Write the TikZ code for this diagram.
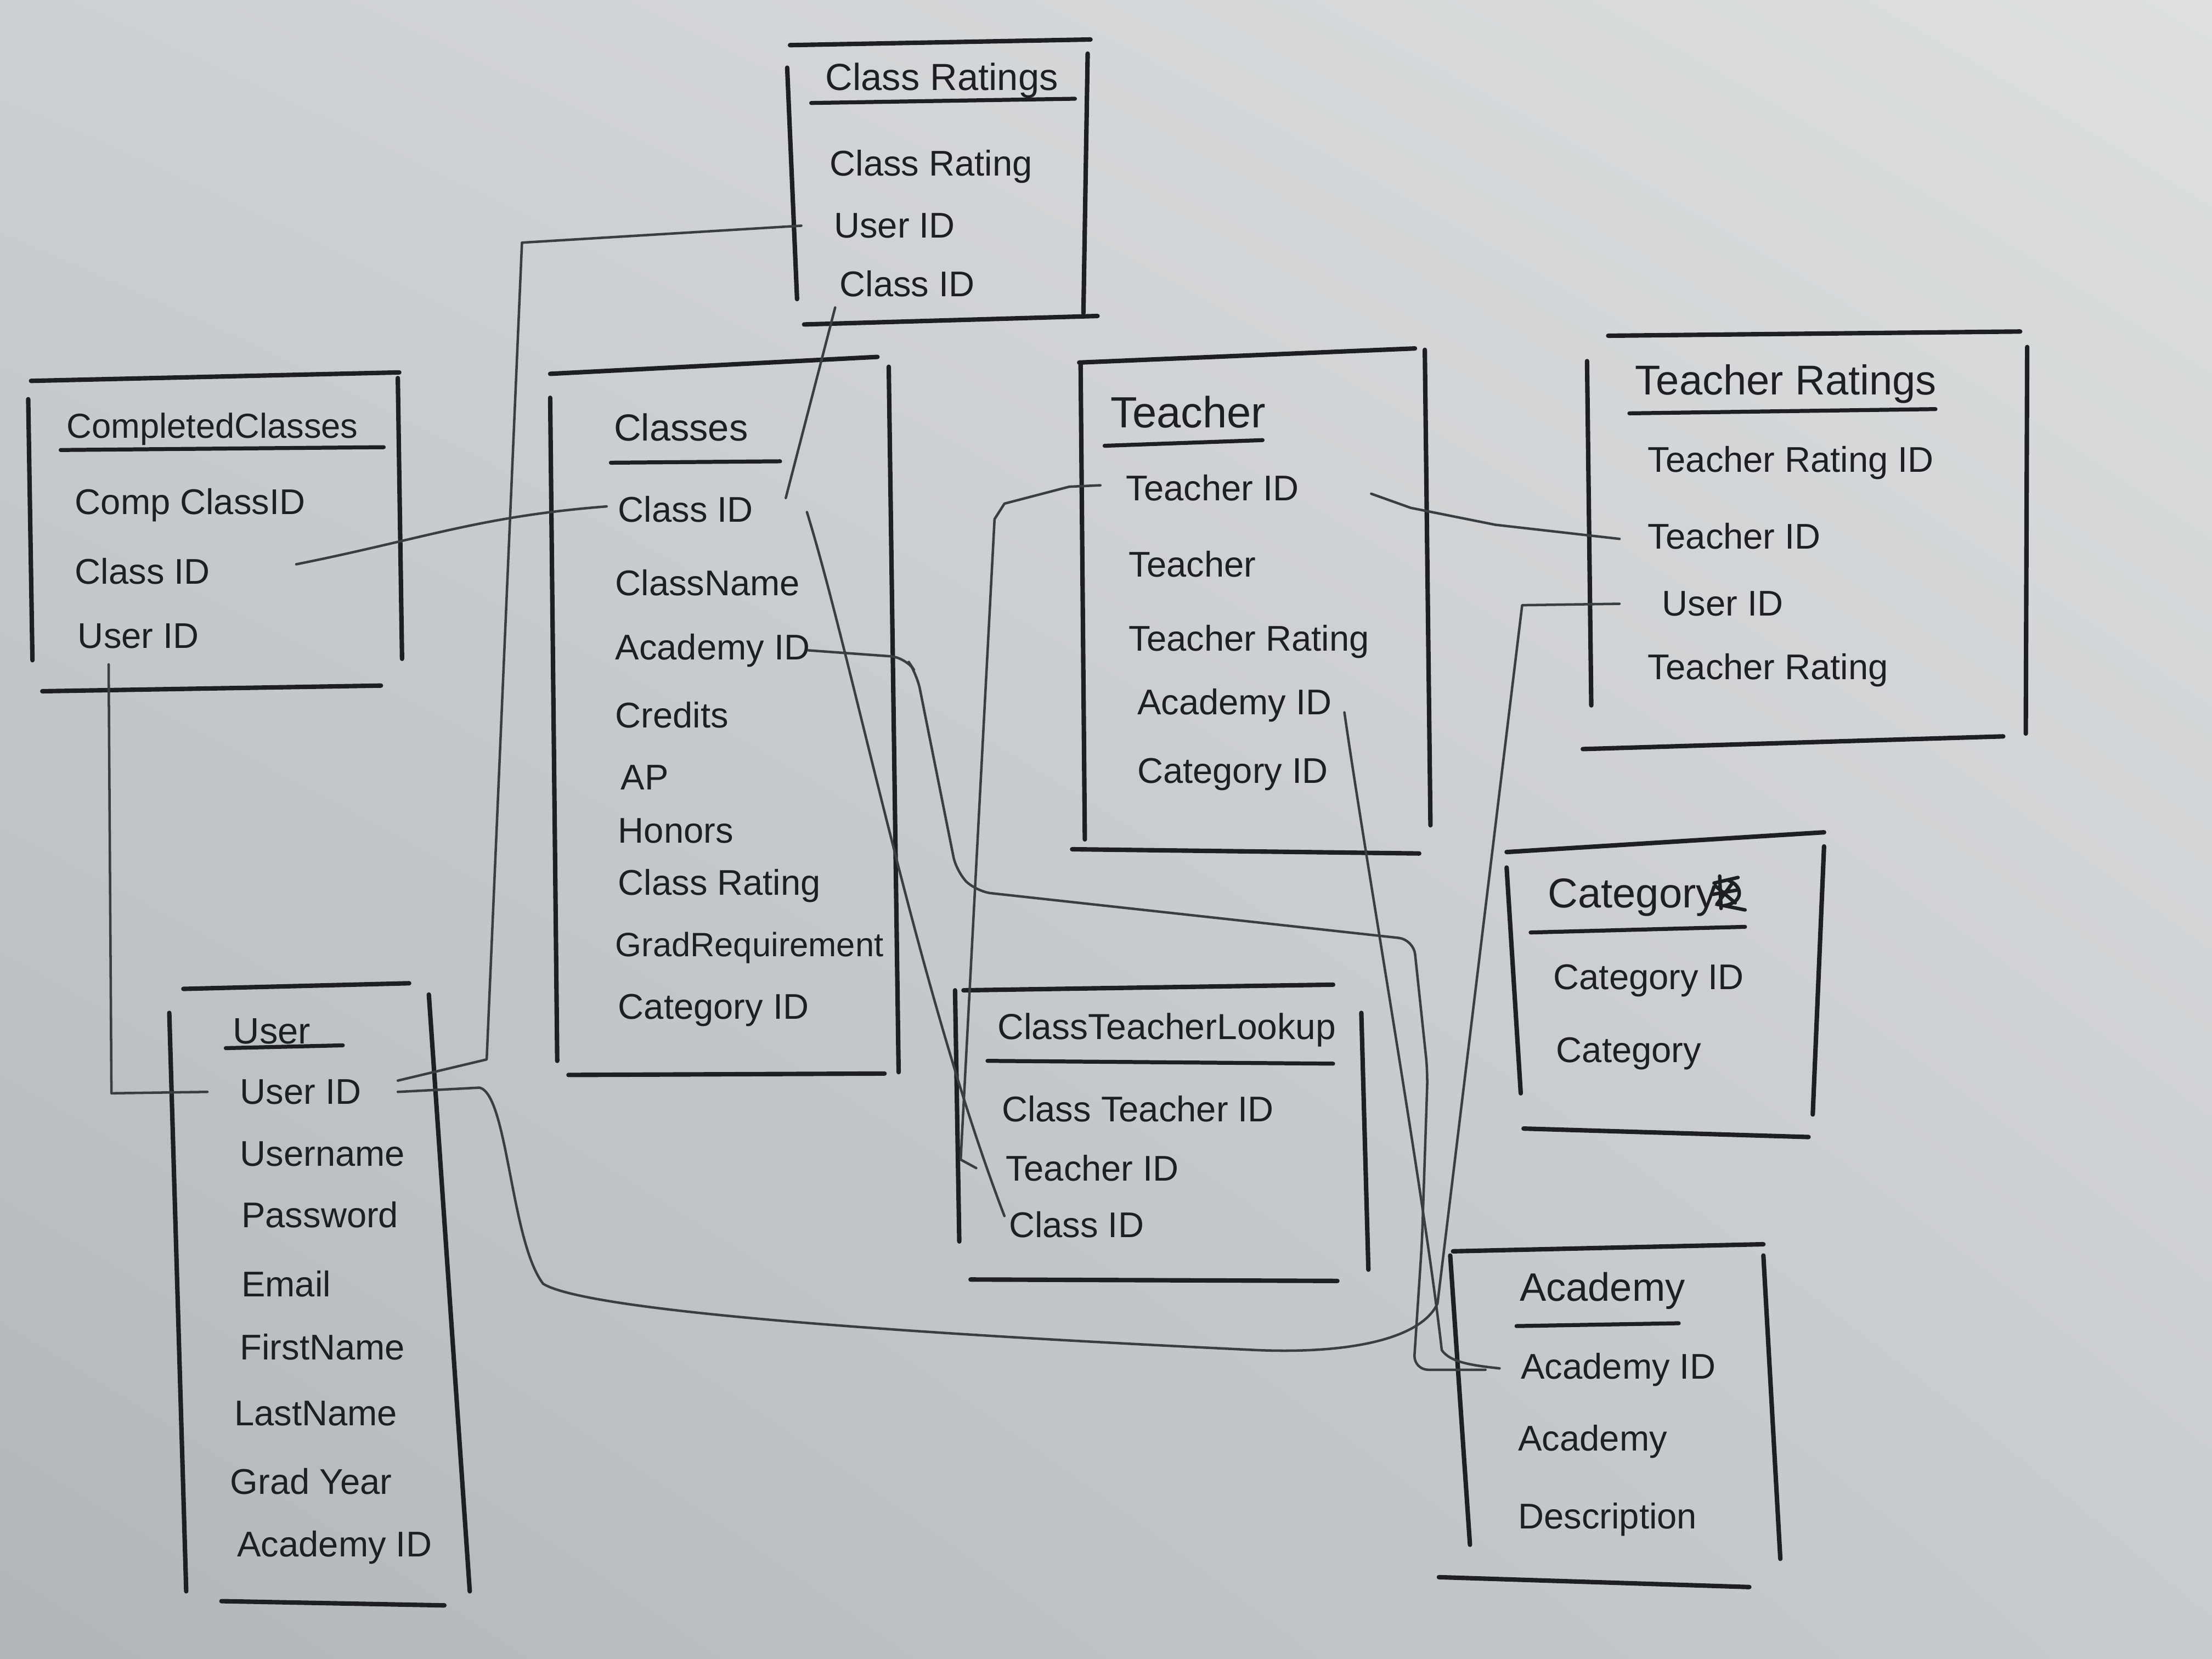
\documentclass[tikz,border=0pt]{standalone}
\usepackage{fontspec}
\setmainfont{Liberation Sans}
\usetikzlibrary{calc,shadings}
\definecolor{ink}{HTML}{1E1F22}
\definecolor{pencil}{HTML}{3A3D42}
\definecolor{paperUL}{HTML}{CDD0D3}
\definecolor{paperUR}{HTML}{DDDFE0}
\definecolor{paperLL}{HTML}{B2B6BA}
\definecolor{paperLR}{HTML}{C9CCCF}
\begin{document}
\begin{tikzpicture}[x=0.01cm,y=-0.01cm,
  box/.style={ink, line width=0.9pt, line cap=round},
  uline/.style={ink, line width=0.8pt, line cap=round},
  link/.style={pencil, line width=0.5pt, line cap=round, line join=round},
  fld/.style={anchor=west, inner sep=1pt, text=ink, font=\fontsize{7.2}{8}\selectfont},
  ttl/.style={anchor=west, inner sep=1pt, text=ink, font=\fontsize{#1}{10}\selectfont},
  ttl/.default=8,
]
\shade[upper left=paperUL, upper right=paperUR, lower left=paperLL, lower right=paperLR] (0,0) rectangle (1568,1176);
\useasboundingbox (0,0) rectangle (1568,1176);

% ---------- Class Ratings ----------
\draw[box] (560,32) -- (773,28);
\draw[box] (558,48) -- (565,212);
\draw[box] (771,38) -- (768,222);
\draw[box] (570,230) -- (778,224);
\node[ttl=7.6] (cr-t) at (581,57) {Class Ratings};
\draw[uline] (575,73) -- (762,70);
\node[fld] (cr-rat) at (584,118) {Class Rating};
\node[fld] (cr-uid) at (587,160) {User ID};
\node[fld] (cr-cid) at (591,201) {Class ID};

% ---------- Completed Classes ----------
\draw[box] (22,270) -- (283,264);
\draw[box] (20,283) -- (23,468);
\draw[box] (282,268) -- (285,467);
\draw[box] (30,490) -- (270,486);
\node[ttl=7.0] (cc-t) at (43,304) {CompletedClasses};
\draw[uline] (43,319) -- (272,317);
\node[fld] (cc-ccid) at (49,358) {Comp ClassID};
\node[fld] (cc-cid) at (49,405) {Class ID};
\node[fld] (cc-uid) at (51,451) {User ID};

% ---------- Classes ----------
\draw[box] (390,265) -- (622,253);
\draw[box] (390,282) -- (395,752);
\draw[box] (630,260) -- (637,760);
\draw[box] (403,762) -- (627,761);
\node[ttl=7.6] (cl-t) at (431,303) {Classes};
\draw[uline] (433,328) -- (553,327);
\node[fld] (cl-cid) at (434,361) {Class ID};
\node[fld] (cl-name) at (432,413) {ClassName};
\node[fld] (cl-aid) at (432,461) {Academy ID};
\node[fld] (cl-cred) at (432,507) {Credits};
\node[fld] (cl-ap) at (436,551) {AP};
\node[fld] (cl-hon) at (434,589) {Honors};
\node[fld] (cl-rat) at (434,628) {Class Rating};
\node[fld, font=\fontsize{6.8}{8}\selectfont] (cl-grad) at (432,672) {GradRequirement};
\node[fld] (cl-cat) at (434,716) {Category ID};

% ---------- Teacher ----------
\draw[box] (765,257) -- (1003,247);
\draw[box] (766,258) -- (769,595);
\draw[box] (1010,248) -- (1014,585);
\draw[box] (760,602) -- (1006,605);
\node[ttl=8.8] (te-t) at (783,292) {Teacher};
\draw[uline] (783,316) -- (895,312);
\node[fld] (te-tid) at (794,346) {Teacher ID};
\node[fld] (te-name) at (796,400) {Teacher};
\node[fld] (te-rat) at (796,455) {Teacher Rating};
\node[fld] (te-aid) at (802,500) {Academy ID};
\node[fld] (te-cat) at (802,549) {Category ID};

% ---------- Teacher Ratings ----------
\draw[box] (1140,238) -- (1432,235);
\draw[box] (1125,256) -- (1128,500);
\draw[box] (1437,246) -- (1436,520);
\draw[box] (1122,531) -- (1420,522);
\node[ttl=8.4] (tr-t) at (1155,272) {Teacher Ratings};
\draw[uline] (1155,293) -- (1372,290);
\node[fld] (tr-rid) at (1164,328) {Teacher Rating ID};
\node[fld] (tr-tid) at (1164,380) {Teacher ID};
\node[fld] (tr-uid) at (1174,428) {User ID};
\node[fld] (tr-rat) at (1164,475) {Teacher Rating};

% ---------- Category ----------
\draw[box] (1068,604) -- (1293,590);
\draw[box] (1068,615) -- (1078,775);
\draw[box] (1293,600) -- (1285,790);
\draw[box] (1080,800) -- (1282,806);
\node[ttl=8.4] (ca-t) at (1093,636) {Category};
\begin{scope}[xshift=0.08cm]
\draw[box, line width=0.7pt] (1207,626) -- (1224,622) (1206,634) -- (1223,631)
  (1211,621) -- (1212,644) (1217,624) .. controls (1228,628) and (1228,640) .. (1214,642) -- (1229,645)
  (1208,628) -- (1222,640) (1220,626) -- (1209,641);
\end{scope}
\draw[uline] (1085,661) -- (1237,657);
\node[fld] (ca-cid) at (1097,695) {Category ID};
\node[fld] (ca-cat) at (1099,747) {Category};

% ---------- Class Teacher Lookup ----------
\draw[box] (683,702) -- (945,698);
\draw[box] (677,702) -- (680,880);
\draw[box] (965,718) -- (970,900);
\draw[box] (688,907) -- (948,908);
\node[ttl=7.3] (ctl-t) at (703,730) {ClassTeacherLookup};
\draw[uline] (700,752) -- (945,754);
\node[fld] (ctl-ctid) at (706,786) {Class Teacher ID};
\node[fld] (ctl-tid) at (709,828) {Teacher ID};
\node[fld] (ctl-cid) at (711,868) {Class ID};

% ---------- User ----------
\draw[box] (130,701) -- (290,697);
\draw[box] (120,718) -- (132,1128);
\draw[box] (304,705) -- (333,1128);
\draw[box] (157,1135) -- (315,1138);
\node[ttl=7.4] (us-t) at (161,731) {User};
\draw[uline] (160,743) -- (243,741);
\node[fld] (us-uid) at (166,774) {User ID};
\node[fld] (us-uname) at (166,818) {Username};
\node[fld] (us-pw) at (167,861) {Password};
\node[fld] (us-mail) at (167,910) {Email};
\node[fld] (us-first) at (166,955) {FirstName};
\node[fld] (us-last) at (162,1002) {LastName};
\node[fld] (us-grad) at (159,1050) {Grad Year};
\node[fld] (us-aid) at (164,1097) {Academy ID};

% ---------- Academy ----------
\draw[box] (1030,887) -- (1250,882);
\draw[box] (1028,890) -- (1042,1095);
\draw[box] (1250,890) -- (1262,1105);
\draw[box] (1020,1118) -- (1240,1125);
\node[ttl=8.0] (ac-t) at (1073,915) {Academy};
\draw[uline] (1075,940) -- (1190,938);
\node[fld] (ac-aid) at (1074,971) {Academy ID};
\node[fld] (ac-name) at (1072,1022) {Academy};
\node[fld] (ac-desc) at (1072,1077) {Description};

% ---------- Connectors ----------
% CompletedClasses.ClassID -- Classes.ClassID
\draw[link] ($(cc-cid.west)+(161,-5)$) .. controls (300,382) and (340,366) .. ($(cl-cid.west)+(-4,-2)$);
% CompletedClasses.UserID -- User.UserID
\draw[link] ($(cc-uid.west)+(26,20)$) -- (79,775) -- ($(us-uid.west)+(-19,0)$);
% User.UserID -- ClassRatings.UserID
\draw[link] ($(us-uid.west)+(116,-8)$) -- (345,751) -- (370,172) -- ($(cr-uid.west)+(-19,0)$);
% User.UserID -- TeacherRatings.UserID
\draw[link] ($(us-uid.west)+(116,0)$) -- (340,771) .. controls (360,776) and (362,880) .. (385,910)
  .. controls (420,932) and (700,948) .. (890,957) .. controls (960,960) and (1008,948) .. (1019,924)
  -- (1079,429) -- ($(tr-uid.west)+(-26,0)$);
% Classes.ClassID -- ClassRatings.ClassID
\draw[link] ($(cl-cid.west)+(123,-8)$) -- ($(cr-cid.west)+(1,17)$);
% Classes.ClassID -- ClassTeacherLookup.ClassID
\draw[link] ($(cl-cid.west)+(138,2)$) .. controls (605,470) and (650,700) .. ($(ctl-cid.west)+(1,-6)$);
% Classes.AcademyID -- Academy.AcademyID
\draw[link, rounded corners=3pt] ($(cl-aid.west)+(141,0)$) -- (642,466) -- (650,478) -- (678,618) -- (692,632)
  -- (1002,666) -- (1012,760) -- (1008,880) -- (1002,971) -- ($(ac-aid.west)+(-21,0)$);
% Teacher.AcademyID -- Academy.AcademyID
\draw[link] ($(te-aid.west)+(151,5)$) .. controls (968,610) and (1010,850) .. (1022,957)
  .. controls (1028,966) and (1045,968) .. ($(ac-aid.west)+(-11,-1)$);
% Teacher.TeacherID -- ClassTeacherLookup.TeacherID
\draw[link] ($(te-tid.west)+(-14,-2)$) -- (758,345) -- (712,357) -- (705,368) -- (681,822) -- ($(ctl-tid.west)+(-17,0)$);
% Teacher.TeacherID -- TeacherRatings.TeacherID
\draw[link] ($(te-tid.west)+(178,4)$) -- (1000,360) -- (1060,372) -- ($(tr-tid.west)+(-16,2)$);
\end{tikzpicture}
\end{document}
